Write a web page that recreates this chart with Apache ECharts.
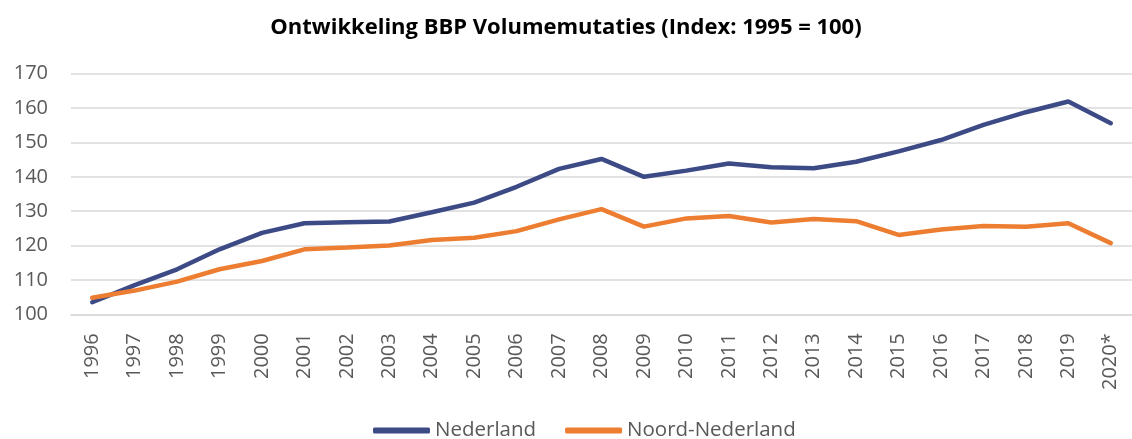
<!DOCTYPE html>
<html><head><meta charset="utf-8">
<script src="https://cdn.jsdelivr.net/npm/echarts@6/dist/echarts.min.js"></script>
<style>html,body{margin:0;padding:0;background:#fff}#c{width:1132px;height:439px}</style>
</head><body><div id="c"></div>
<script>
const categories = ['1996','1997','1998','1999','2000','2001','2002','2003','2004','2005','2006','2007','2008','2009','2010','2011','2012','2013','2014','2015','2016','2017','2018','2019','2020*'];
const nederland = [103.5,108.5,113.1,118.9,123.7,126.5,126.8,127.0,129.7,132.5,137.1,142.3,145.2,140.0,141.8,143.9,142.8,142.5,144.4,147.4,150.7,155.1,158.8,161.9,155.6];
const noordNederland = [104.8,106.9,109.5,113.1,115.5,118.9,119.4,120.0,121.6,122.3,124.2,127.6,130.6,125.5,127.9,128.6,126.7,127.7,127.1,123.1,124.7,125.7,125.5,126.5,120.7];
const yTicks = {min:100, max:170, interval:10};

const FONT = 'Open Sans';
const chart = echarts.init(document.getElementById('c'), null, {renderer:'canvas'});
chart.setOption({
  animation:false,
  backgroundColor:'#fff',
  title:{text:'Ontwikkeling BBP Volumemutaties (Index: 1995 = 100)', left:'center', top:12,
    textStyle:{fontFamily:FONT, fontWeight:'bold', fontSize:22, color:'#000'}},
  grid:{left:71, width:1066, top:73.7, bottom:124.7, containLabel:false},
  legend:{bottom:-7, left:368, itemWidth:57, itemHeight:6, itemGap:29,
    icon:'roundRect',
    textStyle:{fontFamily:FONT, fontSize:20.5, color:'#595959'},
    data:['Nederland','Noord-Nederland']},
  xAxis:{type:'category', data:categories, boundaryGap:true,
    axisLine:{show:true, lineStyle:{color:'#D9D9D9', width:1.5}},
    axisTick:{show:false},
    axisLabel:{rotate:90, interval:0, fontFamily:FONT, fontSize:20, color:'#595959', margin:19}},
  yAxis:{type:'value', min:yTicks.min, max:yTicks.max, interval:yTicks.interval,
    axisLine:{show:false}, axisTick:{show:false},
    axisLabel:{fontFamily:FONT, fontSize:20, color:'#595959', margin:23}},
  series:[
    {name:'Nederland', type:'line', data:nederland, symbol:'none', smooth:false,
      lineStyle:{color:'#3C4A86', width:4.5, cap:'round'}, itemStyle:{color:'#3C4A86'}},
    {name:'Noord-Nederland', type:'line', data:noordNederland, symbol:'none',
      lineStyle:{color:'#ED7D31', width:4.5, cap:'round'}, itemStyle:{color:'#ED7D31'}}
  ]
});
chart.setOption({yAxis:{splitLine:{lineStyle:{color:'#D9D9D9', width:1.5}}}});
</script></body></html>
